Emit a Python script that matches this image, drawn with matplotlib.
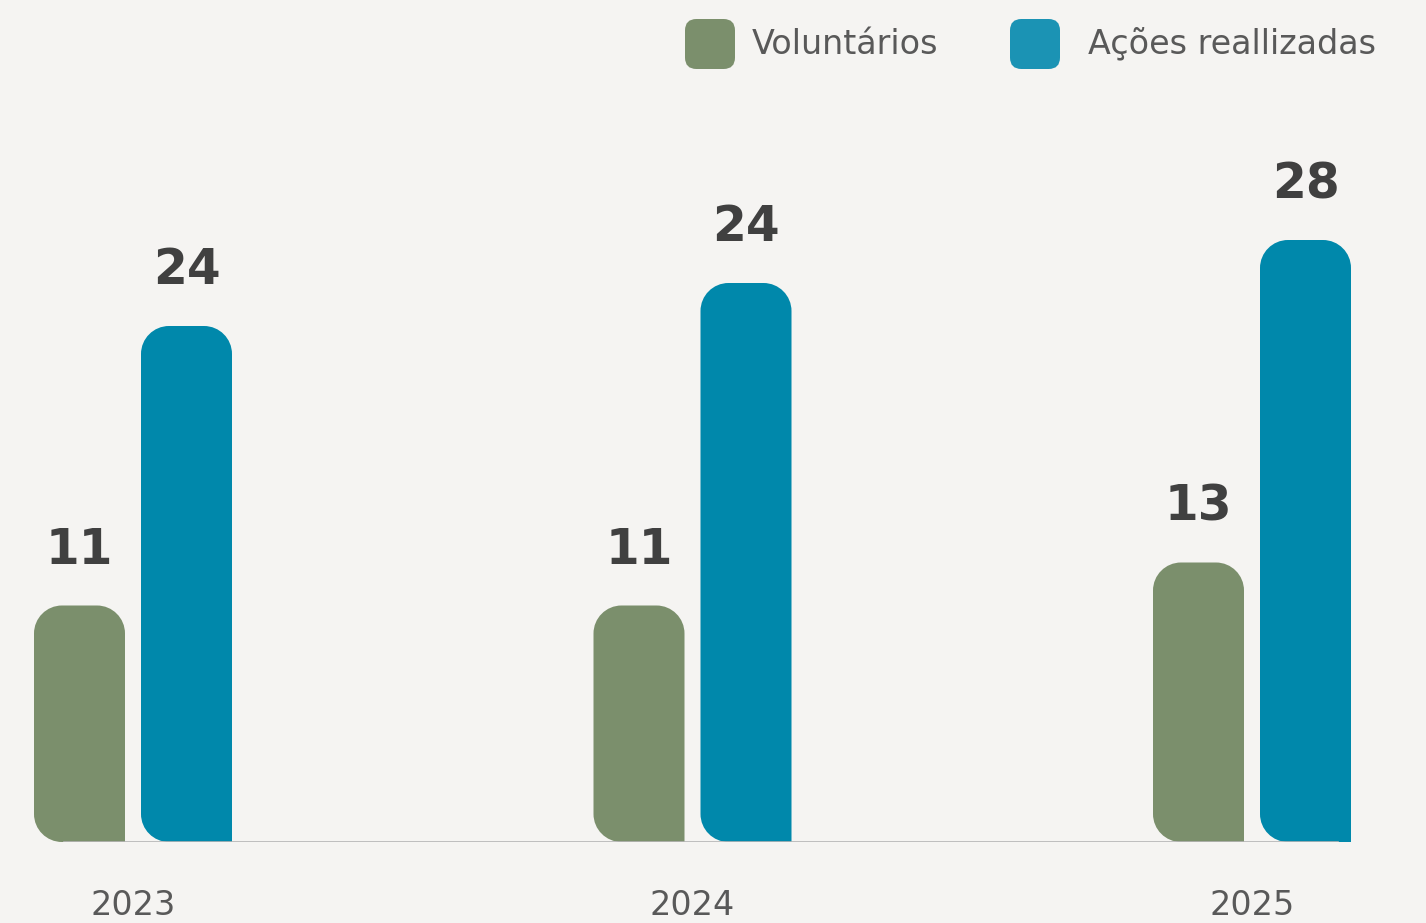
import numpy as np
import matplotlib
matplotlib.use('Agg')
from matplotlib import pyplot as plt
from matplotlib.path import Path
from matplotlib.patches import PathPatch, FancyBboxPatch

# data
years = ['2023', '2024', '2025']
voluntarios = [11, 11, 13]
acoes = [24, 26, 28]              # bar heights as drawn
acoes_labels = ['24', '24', '28']  # labels as printed on the chart
series_names = ['Voluntários', 'Ações reallizadas']

bg = '#f5f4f2'
green = '#7b8f6c'
blue = '#0088ab'
blue_legend = '#1b93b4'
text_dark = '#404040'
text_grey = '#595959'

W, H = 1426, 923
fig = plt.figure(figsize=(W / 100, H / 100), dpi=100, facecolor=bg)

# axes in pixel terms: baseline at y=842, 21.5 px per unit
ax_bottom = (H - 842) / H
ax_height = 645 / H
ax = fig.add_axes([0, ax_bottom, 1, ax_height])
ax.set_facecolor(bg)

group_px = 559.5
x0_px = 133
ax.set_xlim((0 - x0_px) / group_px, (W - x0_px) / group_px)
ax.set_ylim(0, 30)

bar_w = 91 / group_px
offset = 53.5 / group_px
r_px = 28
rx = r_px / group_px
ry = r_px / 21.5


# bar with rounded top corners and rounded bottom-left corner
def roundedBar(xc, h, w, color):
    k = 0.5523
    x0 = xc - w / 2; x1 = xc + w / 2
    verts = [
        (x1, 0),
        (x1, h - ry),
        (x1, h - ry + k * ry), (x1 - rx + k * rx, h), (x1 - rx, h),
        (x0 + rx, h),
        (x0 + rx - k * rx, h), (x0, h - ry + k * ry), (x0, h - ry),
        (x0, ry),
        (x0, ry - k * ry), (x0 + rx - k * rx, 0), (x0 + rx, 0),
        (x1, 0),
    ]
    codes = [Path.MOVETO, Path.LINETO,
             Path.CURVE4, Path.CURVE4, Path.CURVE4,
             Path.LINETO,
             Path.CURVE4, Path.CURVE4, Path.CURVE4,
             Path.LINETO,
             Path.CURVE4, Path.CURVE4, Path.CURVE4,
             Path.CLOSEPOLY]
    ax.add_patch(PathPatch(Path(verts, codes), facecolor=color, edgecolor='none', zorder=2))


x = np.arange(len(years))
for i in range(len(years)):
    roundedBar(x[i] - offset, voluntarios[i], bar_w, green)
    roundedBar(x[i] + offset, acoes[i], bar_w, blue)

    ax.annotate(str(voluntarios[i]), (x[i] - offset, voluntarios[i]), xytext=(0, 30),
                textcoords='offset points', ha='center', va='baseline',
                fontsize=35, fontweight='bold', family='DejaVu Sans', color=text_dark)
    ax.annotate(acoes_labels[i], (x[i] + offset, acoes[i]), xytext=(0, 30),
                textcoords='offset points', ha='center', va='baseline',
                fontsize=35, fontweight='bold', family='DejaVu Sans', color=text_dark)

# baseline
ax.axhline(0, xmin=64 / W, xmax=1338 / W, color='#b5b5b5', lw=1.2, zorder=3)

for s in ax.spines.values():
    s.set_visible(False)
ax.set_yticks([])
ax.set_xticks(x)
ax.set_xticklabels(years, fontsize=24, color=text_grey, family='DejaVu Sans')
ax.tick_params(axis='x', length=0, pad=34)

# legend drawn by hand at the top right
legend_items = [(685, green, series_names[0], 752), (1010, blue_legend, series_names[1], 1088)]
for sx, col, label, tx in legend_items:
    box = FancyBboxPatch((sx / W, 1 - 69 / H), 50 / W, 50 / H,
                         boxstyle='round,pad=0,rounding_size=0.008',
                         transform=fig.transFigure, facecolor=col, edgecolor='none',
                         mutation_aspect=W / H)
    fig.patches.append(box)
    fig.text(tx / W, 1 - 44 / H, label, fontsize=24, color=text_grey, family='DejaVu Sans',
             ha='left', va='center')

fig.savefig('out.png', dpi=100, facecolor=bg)
